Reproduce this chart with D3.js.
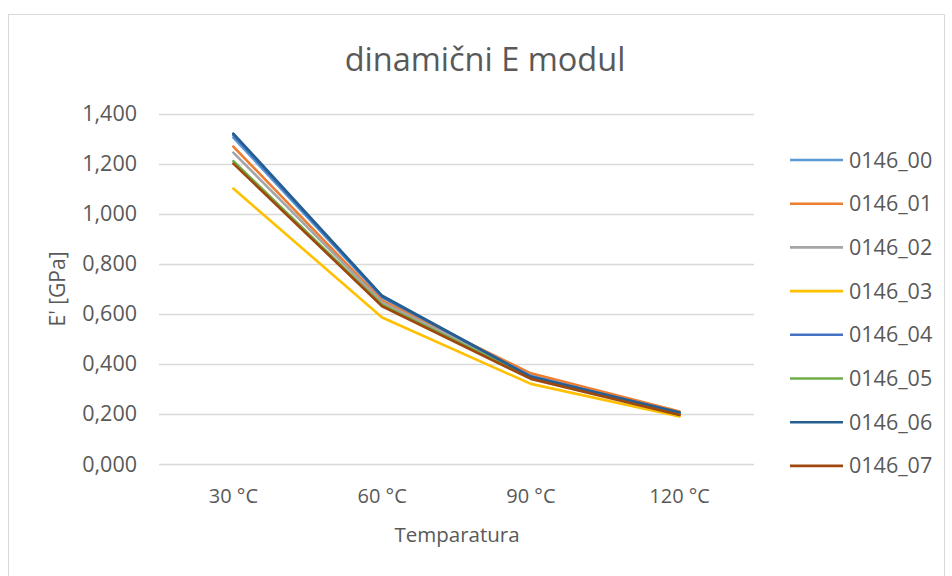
<!DOCTYPE html>
<html>
<head>
<meta charset="utf-8">
<script src="https://cdn.jsdelivr.net/npm/d3@7"></script>
<style>
  body { margin: 0; background: #fff; }
  text { font-family: "Open Sans", sans-serif; fill: #595959; }
</style>
</head>
<body>
<div id="chart"></div>
<script>
// categories on the x axis
const temps = ['30 °C', '60 °C', '90 °C', '120 °C'];
// series names and colours (Excel office palette)
const seriesNames = ['0146_00', '0146_01', '0146_02', '0146_03', '0146_04', '0146_05', '0146_06', '0146_07'];
const seriesColors = ['#5B9BD5', '#ED7D31', '#A5A5A5', '#FFC000', '#4472C4', '#70AD47', '#255E91', '#9E480E'];
// E' values per series
const s00 = [1.304, 0.665, 0.352, 0.203];
const s01 = [1.268, 0.652, 0.362, 0.210];
const s02 = [1.244, 0.645, 0.352, 0.202];
const s03 = [1.100, 0.585, 0.320, 0.190];
const s04 = [1.314, 0.668, 0.350, 0.205];
const s05 = [1.210, 0.635, 0.345, 0.198];
const s06 = [1.320, 0.672, 0.348, 0.206];
const s07 = [1.200, 0.630, 0.340, 0.196];
const seriesValues = [s00, s01, s02, s03, s04, s05, s06, s07];
const yTicks = [0, 0.2, 0.4, 0.6, 0.8, 1.0, 1.2, 1.4];

const width = 952, height = 576;
const plot = { left: 159, right: 754, top: 113.5, bottom: 464 };

const svg = d3.select('#chart').append('svg')
    .attr('width', width)
    .attr('height', height);

// chart frame
svg.append('rect')
    .attr('x', 8.5).attr('y', 14.5)
    .attr('width', 936).attr('height', 575)
    .attr('fill', '#fff')
    .attr('stroke', '#D9D9D9');

const x = d3.scalePoint()
    .domain(temps)
    .range([plot.left, plot.right])
    .padding(0.5);

const y = d3.scaleLinear()
    .domain([0, 1.4])
    .range([plot.bottom, plot.top]);

// gridlines
svg.append('g')
    .selectAll('line')
    .data(yTicks)
    .join('line')
    .attr('x1', plot.left).attr('x2', plot.right)
    .attr('y1', d => Math.round(y(d)) + 0.5)
    .attr('y2', d => Math.round(y(d)) + 0.5)
    .attr('stroke', '#D9D9D9')
    .attr('stroke-width', 1.3);

// y tick labels, "1,400" style (comma as decimal mark)
const fmt = d => d.toFixed(3).replace('.', ',');
svg.append('g')
    .selectAll('text')
    .data(yTicks)
    .join('text')
    .attr('x', 137)
    .attr('y', d => y(d))
    .attr('dy', '0.35em')
    .attr('text-anchor', 'end')
    .attr('font-size', '21.5px')
    .text(d => fmt(d));

// x tick labels
svg.append('g')
    .selectAll('text')
    .data(temps)
    .join('text')
    .attr('x', d => x(d))
    .attr('y', 496)
    .attr('dy', '0.35em')
    .attr('text-anchor', 'middle')
    .attr('font-size', '20px')
    .text(d => d);

// lines
const line = d3.line()
    .x((d, i) => x(temps[i]))
    .y(d => y(d));

svg.append('g')
    .selectAll('path')
    .data(seriesValues)
    .join('path')
    .attr('d', d => line(d))
    .attr('fill', 'none')
    .attr('stroke', (d, i) => seriesColors[i])
    .attr('stroke-width', 2.6)
    .attr('stroke-linejoin', 'round')
    .attr('stroke-linecap', 'round');

// title
svg.append('text')
    .attr('x', 485).attr('y', 60)
    .attr('dy', '0.35em')
    .attr('text-anchor', 'middle')
    .attr('font-size', '32.5px')
    .text('dinamični E modul');

// axis titles
svg.append('text')
    .attr('x', 457).attr('y', 535)
    .attr('dy', '0.35em')
    .attr('text-anchor', 'middle')
    .attr('font-size', '20.5px')
    .text('Temparatura');

svg.append('text')
    .attr('transform', 'translate(58,289) rotate(-90)')
    .attr('dy', '0.35em')
    .attr('text-anchor', 'middle')
    .attr('font-size', '21px')
    .text("E' [GPa]");

// legend
const legend = svg.append('g')
    .selectAll('g')
    .data(seriesNames)
    .join('g')
    .attr('transform', (d, i) => `translate(790,${160 + i * 43.7})`);

legend.append('line')
    .attr('x1', 0).attr('x2', 53)
    .attr('stroke', (d, i) => seriesColors[i])
    .attr('stroke-width', 2.6);

legend.append('text')
    .attr('x', 59)
    .attr('dy', '0.35em')
    .attr('font-size', '21.5px')
    .text(d => d);
</script>
</body>
</html>
